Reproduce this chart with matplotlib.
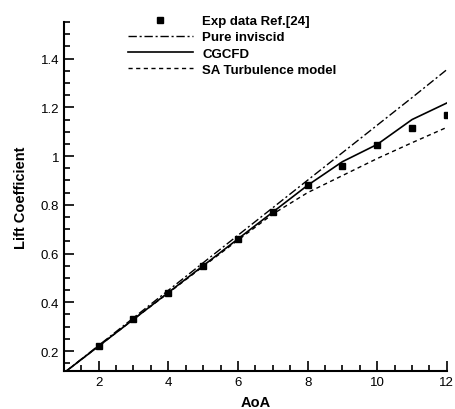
import matplotlib
matplotlib.use("Agg")
import matplotlib.pyplot as plt
from matplotlib.ticker import MultipleLocator

plt.rcParams['font.family'] = ['Liberation Sans', 'DejaVu Sans']

# angle of attack (deg)
aoa = [1, 2, 3, 4, 5, 6, 7, 8, 9, 10, 11, 12]
exp_aoa = [2, 3, 4, 5, 6, 7, 8, 9, 10, 11, 12]
exp_cl = [0.22, 0.33, 0.44, 0.55, 0.66, 0.77, 0.88, 0.96, 1.045, 1.115, 1.167]
inviscid_cl = [0.11, 0.223, 0.336, 0.449, 0.562, 0.675, 0.788, 0.901, 1.014, 1.127, 1.24, 1.355]
cgcfd_cl = [0.11, 0.22, 0.33, 0.44, 0.55, 0.66, 0.77, 0.88, 0.977, 1.048, 1.15, 1.218]
sa_cl = [0.11, 0.22, 0.33, 0.438, 0.547, 0.655, 0.762, 0.85, 0.92, 0.99, 1.055, 1.118]

fig = plt.figure(figsize=(4.56, 4.10), dpi=100)
ax = fig.add_axes([0.140, 0.0927, 0.840, 0.851])

ax.plot(exp_aoa, exp_cl, linestyle='none', marker='s', markersize=4.5,
        color='black', label='Exp data Ref.[24]', zorder=5)
ax.plot(aoa, inviscid_cl, color='black', lw=1.0, dashes=(6, 2, 1.5, 2),
        label='Pure inviscid')
ax.plot(aoa, cgcfd_cl, color='black', lw=1.2, label='CGCFD')
ax.plot(aoa, sa_cl, color='black', lw=1.0, dashes=(3, 2.5),
        label='SA Turbulence model')

ax.set_xlim(1, 12)
ax.set_ylim(0.118, 1.55)
ax.xaxis.set_major_locator(MultipleLocator(2))
ax.xaxis.set_minor_locator(MultipleLocator(0.5))
ax.yaxis.set_major_locator(MultipleLocator(0.2))
ax.yaxis.set_minor_locator(MultipleLocator(0.05))
ax.yaxis.set_major_formatter(plt.FuncFormatter(lambda v, p: f"{v:g}"))

for side in ['top', 'right']:
    ax.spines[side].set_visible(False)
for side in ['left', 'bottom']:
    ax.spines[side].set_linewidth(1.5)

ax.tick_params(which='both', direction='in', width=1.2, labelsize=9.5)
ax.tick_params(which='major', length=7)
ax.tick_params(which='minor', length=4)

ax.set_xlabel('AoA', fontsize=10.5, fontweight='bold', labelpad=5)
ax.set_ylabel('Lift Coefficient', fontsize=10.5, fontweight='bold', labelpad=9)

ax.legend(loc='upper left', bbox_to_anchor=(0.255, 0.99), bbox_transform=fig.transFigure,
          frameon=False, handlelength=4.9, numpoints=1, labelspacing=0.3,
          handletextpad=0.7, prop={'weight': 'bold', 'size': 9.5})

fig.savefig('out.png', dpi=100)
